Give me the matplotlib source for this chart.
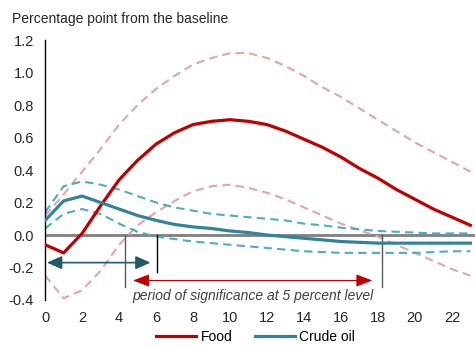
import matplotlib
matplotlib.use("Agg")
import matplotlib.pyplot as plt

plt.rcParams['font.family'] = ['Liberation Sans', 'DejaVu Sans']

horizon = list(range(24))
food = [-0.06, -0.11, 0.01, 0.18, 0.34, 0.46, 0.56, 0.63, 0.68, 0.70, 0.71, 0.70, 0.68, 0.64,
        0.59, 0.54, 0.48, 0.41, 0.35, 0.28, 0.22, 0.16, 0.11, 0.06]
food_upper = [0.12, 0.25, 0.39, 0.53, 0.68, 0.80, 0.90, 0.98, 1.05, 1.09, 1.12, 1.12, 1.09, 1.04,
              0.98, 0.91, 0.85, 0.78, 0.71, 0.64, 0.57, 0.51, 0.45, 0.39]
food_lower = [-0.25, -0.39, -0.34, -0.22, -0.06, 0.06, 0.14, 0.21, 0.27, 0.30, 0.31, 0.29, 0.26, 0.22,
              0.17, 0.12, 0.07, 0.03, -0.01, -0.06, -0.11, -0.16, -0.21, -0.25]
oil = [0.09, 0.21, 0.24, 0.20, 0.16, 0.12, 0.09, 0.065, 0.05, 0.04, 0.025, 0.015, 0.0, -0.01,
       -0.02, -0.03, -0.04, -0.045, -0.05, -0.05, -0.05, -0.05, -0.05, -0.05]
oil_upper = [0.14, 0.30, 0.33, 0.31, 0.28, 0.24, 0.20, 0.17, 0.15, 0.13, 0.12, 0.11, 0.10, 0.09,
             0.07, 0.06, 0.045, 0.035, 0.025, 0.02, 0.015, 0.01, 0.01, 0.01]
oil_lower = [0.04, 0.13, 0.16, 0.13, 0.07, 0.02, -0.01, -0.025, -0.04, -0.05, -0.06, -0.07, -0.08, -0.09,
             -0.10, -0.105, -0.11, -0.11, -0.11, -0.11, -0.11, -0.105, -0.10, -0.10]

xticks = list(range(0, 24, 2))
yticks = [-0.4, -0.2, 0.0, 0.2, 0.4, 0.6, 0.8, 1.0, 1.2]

RED = '#C00000'
PINK = '#E6A3A3'
TEAL = '#31849B'
CYAN = '#4BACC6'
DARKTEAL = '#215968'

fig = plt.figure(figsize=(4.75, 3.46), dpi=100)
ax = fig.add_axes([0.095, 0.133, 0.905, 0.751])

ax.axhline(0, color='#7F7F7F', lw=2, zorder=1)
ax.plot(horizon, food_upper, color=PINK, lw=1.5, ls=(0, (4, 2.5)), zorder=2)
ax.plot(horizon, food_lower, color=PINK, lw=1.5, ls=(0, (4, 2.5)), zorder=2)
ax.plot(horizon, oil_upper, color=CYAN, lw=1.5, ls=(0, (4, 2.5)), zorder=2)
ax.plot(horizon, oil_lower, color=CYAN, lw=1.5, ls=(0, (4, 2.5)), zorder=2)
ax.plot(horizon, food, color=RED, lw=2.3, label='Food', zorder=3)
ax.plot(horizon, oil, color=TEAL, lw=2.3, label='Crude oil', zorder=3)

# annotations
ax.annotate('', xy=(0.1, -0.17), xytext=(5.7, -0.17),
            arrowprops=dict(arrowstyle='<|-|>,head_length=0.9,head_width=0.4', color=DARKTEAL, lw=1.2,
                            shrinkA=0, shrinkB=0))
ax.plot([6.05, 6.05], [0, -0.23], color='black', lw=1)
ax.plot([4.3, 4.3], [0, -0.32], color='#595959', lw=1)
ax.plot([18.2, 18.2], [0, -0.32], color='#595959', lw=1)
ax.annotate('', xy=(4.75, -0.28), xytext=(17.7, -0.28),
            arrowprops=dict(arrowstyle='<|-|>,head_length=1.0,head_width=0.38', color=RED, lw=0.8,
                            shrinkA=0, shrinkB=0))
ax.text(11.25, -0.375, 'period of significance at 5 percent level', style='italic',
        ha='center', va='center', fontsize=10, color='#404040')

ax.set_xlim(0, 23.25)
ax.set_ylim(-0.4, 1.2)
ax.set_xticks(xticks)
ax.set_yticks(yticks)
ax.set_yticklabels([f'{v:.1f}' for v in yticks])
for s in ['top', 'right', 'bottom']:
    ax.spines[s].set_visible(False)
ax.spines['left'].set_linewidth(1)
ax.tick_params(axis='both', length=0, labelsize=10.5, colors='#262626', pad=8)
ax.tick_params(axis='x', pad=8)

fig.text(0.025, 0.945, 'Percentage point from the baseline', fontsize=10, color='#262626',
         ha='left', va='center')

fig.legend(loc='lower center', ncol=2, frameon=False, fontsize=10, bbox_to_anchor=(0.538, -0.03),
           handlelength=2.9, columnspacing=1.6, handletextpad=0.3)

fig.savefig('out.png', dpi=100)
